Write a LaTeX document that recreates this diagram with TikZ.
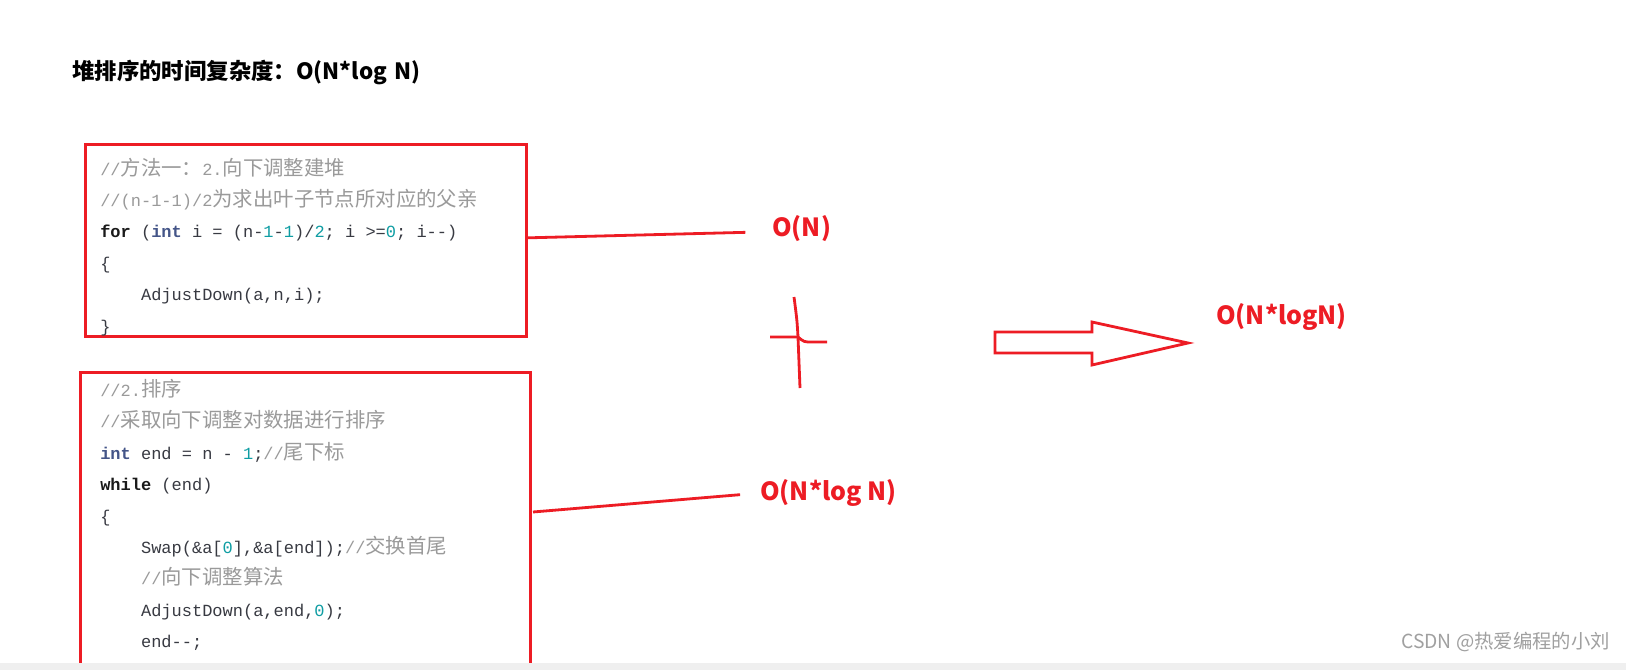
\documentclass[tikz,border=0pt]{standalone}
\usepackage{fontspec}
\setmonofont{Liberation Mono}
\newfontfamily\cjk{Noto Sans CJK SC}
\newfontfamily\cjkcode[Scale=1.2]{Noto Sans CJK SC}
\usepackage{xcolor}
\usetikzlibrary{positioning}

\definecolor{markred}{HTML}{ED1C24}
\definecolor{cmtgray}{HTML}{9A9A9A}
\definecolor{codefg}{HTML}{383A42}
\definecolor{kwdark}{HTML}{1A1A1A}
\definecolor{typeblue}{HTML}{445588}
\definecolor{numteal}{HTML}{0E9DA3}
\definecolor{stripgray}{HTML}{EFEFEF}
\definecolor{wmgray}{HTML}{A0A0A0}

\newcommand\zh[1]{{\cjkcode #1}}
\newcommand\cmt[1]{{\color{cmtgray}#1}}
\newcommand\kw[1]{{\color{kwdark}\bfseries #1}}
\newcommand\ty[1]{{\color{typeblue}\bfseries #1}}
\newcommand\nm[1]{{\color{numteal}#1}}
\newcommand\ind{\hspace*{2.4em}}

\begin{document}
\begin{tikzpicture}[x=0.75pt, y=-0.75pt,
    codebox/.style={draw=markred, line width=2.25pt, inner sep=0pt, anchor=north west},
    codetext/.style={font=\ttfamily\fontsize{12.75}{23.55}\selectfont, text=codefg, align=left, inner sep=0pt, anchor=base west},
    cplx/.style={font=\cjk\bfseries\fontsize{18.75}{22}\selectfont, text=markred, inner sep=0pt, anchor=west},
    markline/.style={draw=markred, line width=2.1pt}]
    \useasboundingbox (0,0) rectangle (1626,670);
    \fill[white] (0,0) rectangle (1626,670);

    % title
    \node[font=\cjk\bfseries\fontsize{16.8}{20}\selectfont, inner sep=0pt, anchor=west] (title) at (72,72) {堆排序的时间复杂度：O(N*log\,\,N)};

    % code boxes
    \node[codebox, minimum width=330.75pt, minimum height=144pt] (box1) at (84,143) {};
    \node[codebox, minimum width=337.5pt, minimum height=255pt] (box2) at (79,371) {};

    % base anchor sits on the last line
    \node[codetext] (code1) at (100,332) {%
        \cmt{//\zh{方法一：}2.\zh{向下调整建堆}}\\
        \cmt{//(n-1-1)/2\zh{为求出叶子节点所对应的父亲}}\\
        \kw{for} (\ty{int} i = (n-\nm{1}-\nm{1})/\nm{2}; i >=\nm{0}; i-{}-)\\
        \{\\
        \ind AdjustDown(a,n,i);\\
        \}};
    \node[codetext] (code2) at (100,679) {%
        \cmt{//2.\zh{排序}}\\
        \cmt{//\zh{采取向下调整对数据进行排序}}\\
        \ty{int} end = n - \nm{1};\cmt{//\zh{尾下标}}\\
        \kw{while} (end)\\
        \{\\
        \ind Swap(\&a[\nm{0}],\&a[end]);\cmt{//\zh{交换首尾}}\\
        \ind\cmt{//\zh{向下调整算法}}\\
        \ind AdjustDown(a,end,\nm{0});\\
        \ind end-{}-;\\
        \}};

    % complexities
    \node[cplx] (on) at (772,229) {O(N)};
    \node[cplx] (onlog) at (760,493) {O(N*log N)};
    \node[cplx] (total) at (1216,317) {O(N*logN)};
    \coordinate (b2out) at (533,512);

    \draw[markline, shorten >=20pt] ([yshift=2pt]box1.east) -- ([yshift=-2pt]on.west);
    \draw[markline, shorten >=15pt] (b2out) -- (onlog.west);

    % hand drawn plus
    \draw[markline] (794,297) .. controls (797,320) .. (798,337) -- (800,388);
    \draw[markline] (770,337) -- (798,337) .. controls (804,342) .. (812,342) -- (827,342);

    % hollow arrow
    \draw[markline] (995,332) -- (1092,332) -- (1092,322) -- (1188,343)
        -- (1092,365) -- (1092,353) -- (995,353) -- cycle;

    % bottom strip and mark
    \fill[stripgray] (0,663) rectangle (1626,670);
    \node[font=\cjk\fontsize{14.5}{16}\selectfont, text=wmgray, inner sep=0pt, anchor=east] (mark) at (1610,642) {CSDN @热爱编程的小刘};
\end{tikzpicture}
\end{document}
